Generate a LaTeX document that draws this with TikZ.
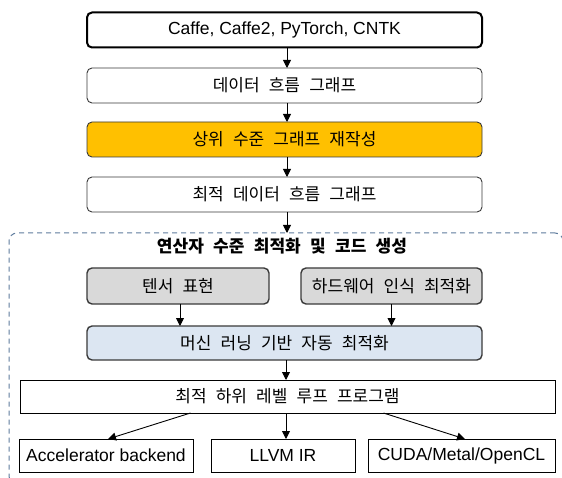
\documentclass[tikz,border=0pt]{standalone}
\usepackage{fontspec}
\setmainfont{Liberation Sans}
\newfontfamily\kr[WordSpace=2.4]{Noto Sans CJK KR}
\usetikzlibrary{arrows.meta,calc}
\definecolor{orangebox}{HTML}{FFC000}
\definecolor{graybox}{HTML}{D9D9D9}
\definecolor{bluebox}{HTML}{DCE6F2}
\definecolor{dashcol}{HTML}{5F7C9E}
\definecolor{edgegray}{HTML}{3A3A3A}
\begin{document}
\begin{tikzpicture}[x=1pt,y=-1pt,
  base/.style={inner sep=0pt, outer sep=0pt, text=black},
  krtext/.style={font=\kr\fontsize{17}{19}\selectfont},
  lattext/.style={font=\fontsize{17.5}{19}\selectfont},
  topbox/.style={base, draw=edgegray, line width=0.9pt, rounded corners=5pt, minimum width=395pt, minimum height=35pt},
  subbox/.style={base, draw=edgegray, line width=1.4pt, rounded corners=5pt, minimum width=182pt, minimum height=36pt, fill=graybox, krtext},
  flatbox/.style={base, draw=black, line width=0.8pt, minimum height=33pt},
  arr/.style={-{Triangle[length=8pt,width=8pt]}, line width=0.9pt, black},
  grpbox/.style={draw=dashcol, line width=1pt, dash pattern=on 5pt off 4pt, rounded corners=8pt, minimum width=554pt, minimum height=251pt, inner sep=0pt, outer sep=0pt}
]
\useasboundingbox (0,0) rectangle (562,478);
\fill[white] (0,0) rectangle (562,478);

\node[topbox, line width=2pt, draw=black, lattext] (fw) at (284.5,30) {Caffe, Caffe2, PyTorch, CNTK};
\node[topbox, krtext] (dfg) at (284.5,85.5) {데이터 흐름 그래프};
\node[topbox, krtext, fill=orangebox] (hl) at (284.5,139.5) {상위 수준 그래프 재작성};
\node[topbox, krtext] (odfg) at (284.5,194.5) {최적 데이터 흐름 그래프};

\node[grpbox] (grp) at (286,358.5) {};
\node[base, font=\kr\bfseries\fontsize{17}{19}\selectfont] (title) at (282,246) {연산자 수준 최적화 및 코드 생성};

\node[subbox] (tensor) at (178,286) {텐서 표현};
\node[subbox, minimum width=181pt] (hw) at (391.5,286) {하드웨어 인식 최적화};
\node[topbox, krtext, fill=bluebox, line width=1.4pt, minimum height=34pt] (ml) at (284.5,343) {머신 러닝 기반 자동 최적화};

\node[flatbox, krtext, minimum width=535pt] (loop) at (287.5,396.5) {최적 하위 레벨 루프 프로그램};
\node[flatbox, lattext, minimum width=174pt] (acc) at (106,455.5) {Accelerator backend};
\node[flatbox, lattext, minimum width=144pt] (llvm) at (283,455.5) {LLVM IR};
\node[flatbox, lattext, minimum width=187pt] (cuda) at (461.5,455.5) {CUDA/Metal/OpenCL};

\coordinate (s1) at ($(fw.south)+(2.5,0)$);
\coordinate (s2) at ($(dfg.south)+(2.5,0)$);
\coordinate (s3) at ($(hl.south)+(2.5,0)$);
\coordinate (s4) at ($(odfg.south)+(2.5,0)$);
\coordinate (s5) at ($(tensor.south)+(2,0)$);
\coordinate (s6) at ($(ml.south)+(1.5,0)$);
\coordinate (s7) at ($(loop.south)+(-1.5,0)$);
\coordinate (s8) at ($(loop.south)+(-97,0)$);
\coordinate (s9) at ($(loop.south)+(96,0)$);
\coordinate (t8) at ($(acc.north)+(2,0)$);
\coordinate (t9) at ($(cuda.north)+(3.5,0)$);

\draw[arr] (s1) -- (s1 |- dfg.north);
\draw[arr] (s2) -- (s2 |- hl.north);
\draw[arr] (s3) -- (s3 |- odfg.north);
\draw[arr] (s4) -- (s4 |- grp.north);

\draw[arr] (s5) -- (s5 |- ml.north);
\draw[arr] (hw.south) -- (hw.south |- ml.north);
\draw[arr] (s6) -- (s6 |- loop.north);

\draw[arr] (s7) -- (s7 |- llvm.north);
\draw[arr] (s8) -- (t8);
\draw[arr] (s9) -- (t9);
\end{tikzpicture}
\end{document}
